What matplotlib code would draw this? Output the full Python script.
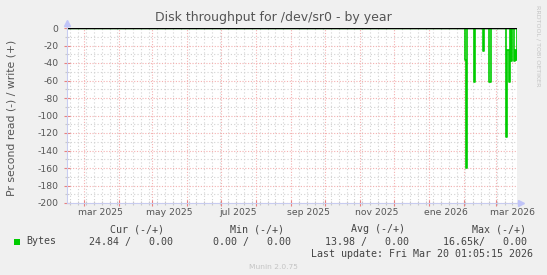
import matplotlib
matplotlib.use('Agg')
import matplotlib.pyplot as plt
import matplotlib.dates as mdates
import matplotlib.transforms as mtrans
from matplotlib.patches import Rectangle
import numpy as np
import datetime as dt

# ---------------- data ----------------
start_date = dt.date(2025, 2, 14)
end_date = dt.date(2026, 3, 20)
spike_dates = ['2026-02-02', '2026-02-03', '2026-02-10', '2026-02-18',
               '2026-02-23', '2026-02-24', '2026-03-10', '2026-03-11',
               '2026-03-12', '2026-03-13', '2026-03-15', '2026-03-17',
               '2026-03-18', '2026-03-19']
spike_reads = [-37, -160, -62, -26, -62, -62, -125, -25, -25, -62, -38, -38, -25, -36]
y_ticks = [0, -20, -40, -60, -80, -100, -120, -140, -160, -180, -200]
x_label_dates = ['2025-03-16', '2025-05-16', '2025-07-16', '2025-09-16',
                 '2025-11-16', '2026-01-16', '2026-03-16']
x_label_texts = ['mar 2025', 'may 2025', 'jul 2025', 'sep 2025',
                 'nov 2025', 'ene 2026', 'mar 2026']
legend_headers = ['Cur (-/+)', 'Min (-/+)', 'Avg (-/+)', 'Max (-/+)']
legend_values = ['24.84 /   0.00', '0.00 /   0.00', '13.98 /   0.00', '16.65k/   0.00']

# build daily series
ndays = (end_date - start_date).days
days = [start_date + dt.timedelta(days=i) for i in range(ndays + 1)]
reads = np.zeros(len(days))
for d, v in zip(spike_dates, spike_reads):
    idx = (dt.date.fromisoformat(d) - start_date).days
    reads[idx] = v
writes = np.zeros(len(days))
xnum = mdates.date2num(days)

W, H = 547, 275
fig = plt.figure(figsize=(W / 100, H / 100), dpi=100, facecolor='#f0f0f0')
L, R, T, B = 66.7, 517, 28, 203
ax = fig.add_axes([L / W, (H - B) / H, (R - L) / W, (B - T) / H])
ax.set_facecolor('#ffffff')

green = '#00cc00'
ax.plot(xnum, reads, drawstyle='steps-post', color=green, lw=1.2, zorder=3)
ax.plot(xnum, writes, drawstyle='steps-post', color=green, lw=1.0, zorder=3)
ax.axhline(0, color='#000000', lw=1.0, zorder=4)

ax.set_xlim(mdates.date2num(start_date), mdates.date2num(end_date))
ax.set_ylim(-200, 0)

# x grid: months (major, red) and weeks on Monday (minor, gray)
ax.xaxis.set_major_locator(mdates.MonthLocator())
ax.xaxis.set_minor_locator(mdates.WeekdayLocator(byweekday=mdates.MO))
ax.xaxis.set_major_formatter(plt.NullFormatter())
ax.set_yticks(y_ticks)
ax.set_yticks(np.arange(-190, 0, 20), minor=True)
ax.set_yticklabels([str(v) for v in y_ticks])

major_c = '#f4b0b0'
minor_c = '#d2d2d2'
ax.grid(which='major', color=major_c, linestyle=(0, (1, 1.5)), lw=0.8, zorder=1)
ax.grid(which='minor', color=minor_c, linestyle=(0, (1, 2)), lw=0.8, zorder=0)
ax.tick_params(which='major', direction='inout', length=4, width=0.8, color='#e88080',
               labelsize=6.7, labelcolor='#555555', pad=4)
ax.tick_params(which='minor', direction='inout', length=3, width=0.8, color='#c8c8c8')
ax.tick_params(axis='x', which='major', pad=0)

for s in ['top', 'right']:
    ax.spines[s].set_visible(False)
axis_c = '#c8ccf0'
ax.spines['left'].set_color(axis_c)
ax.spines['bottom'].set_color(axis_c)
ax.spines['left'].set_zorder(5)
ax.spines['bottom'].set_zorder(5)

# arrows
ax.plot([1.0, 1.008], [0, 0], transform=ax.transAxes, color=axis_c, lw=1, clip_on=False)
ax.plot([1.009], [0], marker='>', ms=4, color='#c0c4f8', transform=ax.transAxes, clip_on=False)
ax.plot([0, 0], [1.0, 1.025], transform=ax.transAxes, color=axis_c, lw=1, clip_on=False)
ax.plot([0], [1.03], marker='^', ms=4, color='#c0c4f8', transform=ax.transAxes, clip_on=False)

# x labels at mid-month
trans = mtrans.blended_transform_factory(ax.transData, ax.transAxes)
for d, t in zip(x_label_dates, x_label_texts):
    ax.text(mdates.date2num(dt.date.fromisoformat(d)), -0.057, t, transform=trans,
            ha='center', va='center', fontsize=6.7, color='#555555', clip_on=False)

def px(x, y):
    return x / W, 1 - y / H

fig.text(*px(273, 18), 'Disk throughput for /dev/sr0 - by year', ha='center', va='center',
         fontsize=9, color='#555555')
fig.text(*px(11.7, 118), 'Pr second read (-) / write (+)', rotation=90, ha='center',
         va='center', fontsize=7.8, color='#555555')
fig.text(*px(537.5, 5), 'RRDTOOL / TOBI OETIKER', rotation=270, ha='center', va='top',
         fontsize=4.6, color='#c4c4c4')

mono = 'DejaVu Sans Mono'
leg_c = '#444444'
header_right = [164, 284.5, 405, 526]
for hx, h in zip(header_right, legend_headers):
    fig.text(*px(hx, 229), h, ha='right', va='center', fontsize=7.2, family=mono, color=leg_c)
value_right = [173, 291, 409, 527]
for vx, v in zip(value_right, legend_values):
    fig.text(*px(vx, 241.5), v, ha='right', va='center', fontsize=7.2, family=mono, color=leg_c)
fig.patches.append(Rectangle(px(14, 245), 6 / W, 6 / H, transform=fig.transFigure,
                             facecolor=green, edgecolor='none'))
fig.text(*px(26, 241.5), 'Bytes', ha='left', va='center', fontsize=7.2, family=mono, color=leg_c)
fig.text(*px(533, 254), 'Last update: Fri Mar 20 01:05:15 2026', ha='right', va='center',
         fontsize=7.2, family=mono, color=leg_c)
fig.text(*px(273, 267), 'Munin 2.0.75', ha='center', va='center', fontsize=5.4, color='#c4c4c4')

fig.savefig('out.png', dpi=100, facecolor=fig.get_facecolor())
